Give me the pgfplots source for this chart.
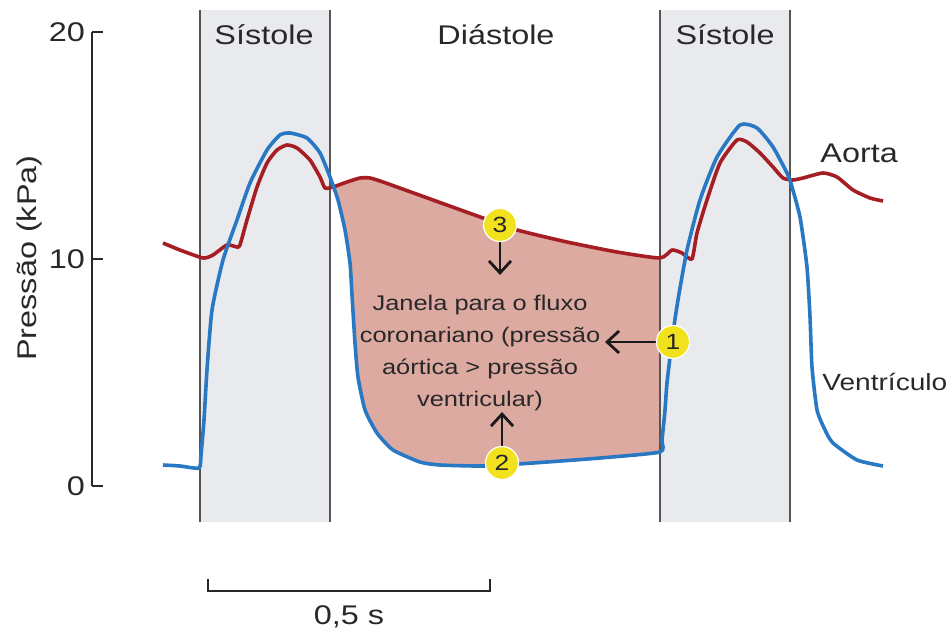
\documentclass[border=0pt]{standalone}
\usepackage{fontspec}
\setmainfont{Liberation Sans}[FakeStretch=1.2]
\usepackage{pgfplots}
\pgfplotsset{compat=1.18}
\usepackage{pgfplotstable}
\usepgfplotslibrary{fillbetween}
\usetikzlibrary{arrows.meta}

\definecolor{aortared}{RGB}{165,30,35}
\definecolor{ventblue}{RGB}{40,120,195}
\definecolor{bandgray}{RGB}{233,234,238}
\definecolor{bandline}{RGB}{85,85,85}
\definecolor{windowpink}{RGB}{221,170,162}
\definecolor{calloutyellow}{RGB}{242,226,30}
\definecolor{inkgray}{RGB}{40,40,40}

% time (s) from start of first systole, pressure (kPa)
\pgfplotstableread{
t p
-0.0656 10.705
-0.0355 10.396
0.0053 10.044
0.0230 10.176
0.0479 10.617
0.0656 10.529
0.0709 10.617
0.0833 11.718
0.1011 13.172
0.1188 14.229
0.1365 14.802
0.1543 15.022
0.1720 14.890
0.1950 14.361
0.2128 13.612
0.2216 13.128
0.2358 13.172
0.2606 13.392
0.2837 13.568
0.3014 13.568
0.3245 13.392
0.4131 12.599
0.5018 11.806
0.5621 11.278
0.6507 10.749
0.7394 10.308
0.8156 10.044
0.8369 10.396
0.8546 10.264
0.8723 10.000
0.8812 11.145
0.8989 12.599
0.9220 14.229
0.9521 15.242
0.9699 15.154
0.9929 14.670
1.0160 14.053
1.0337 13.568
1.0514 13.480
1.0691 13.568
1.1046 13.789
1.1294 13.612
1.1578 13.040
1.1879 12.687
1.2110 12.555
}\aorta

\pgfplotstableread{
t p
-0.0656 0.925
-0.0355 0.881
-0.0018 0.793
0.0018 1.366
0.0071 2.907
0.0124 5.110
0.0213 7.753
0.0408 9.956
0.0656 11.718
0.0887 13.348
0.1188 14.802
0.1418 15.463
0.1596 15.551
0.1897 15.330
0.2128 14.670
0.2305 13.612
0.2447 12.599
0.2571 11.278
0.2660 9.824
0.2695 8.414
0.2748 6.300
0.2801 4.802
0.2926 3.348
0.3138 2.335
0.3422 1.586
0.3901 1.057
0.4255 0.925
0.5018 0.881
0.5904 1.013
0.7092 1.233
0.8156 1.498
0.8191 2.026
0.8245 3.348
0.8280 4.537
0.8387 6.740
0.8475 8.194
0.8635 10.396
0.8865 12.599
0.9167 14.493
0.9574 15.903
0.9876 15.771
1.0160 14.934
1.0408 13.789
1.0461 13.480
1.0638 11.850
1.0762 9.648
1.0816 7.445
1.0851 5.242
1.0940 3.348
1.1082 2.467
1.1223 1.894
1.1649 1.145
1.2110 0.881
}\ventricle

\begin{document}
\begin{tikzpicture}
\begin{axis}[
  x=282pt, y=11.35pt,
  xmin=-0.1915, xmax=1.2145, ymin=0, ymax=20,
  axis x line=none, axis y line=left,
  axis line style={-, draw=inkgray, line width=1pt},
  ytick={0,10,20}, tick align=inside, major tick length=5.5pt,
  ytick style={draw=inkgray, line width=1pt},
  yticklabel style={font=\fontsize{13.5}{16}\selectfont, text=inkgray},
  /pgf/number format/assume math mode=true,
  ylabel={Pressão (kPa)},
  every axis y label/.style={at={(rel axis cs:-0.0782,0.502)}, rotate=90,
    anchor=center, font=\fontsize{13.5}{16}\selectfont, text=inkgray},
  clip=false,
  every axis plot/.append style={line join=round},
]
% systole bands
\addplot[fill=bandgray, draw=none] coordinates {(0,-1.59) (0.2305,-1.59) (0.2305,20.97) (0,20.97)} -- cycle;
\addplot[fill=bandgray, draw=none] coordinates {(0.8156,-1.59) (1.046,-1.59) (1.046,20.97) (0.8156,20.97)} -- cycle;
\addplot[bandline, line width=0.7pt] coordinates {(0,-1.59) (0,20.97)};
\addplot[bandline, line width=0.7pt] coordinates {(0.2305,-1.59) (0.2305,20.97)};
\addplot[bandline, line width=0.7pt] coordinates {(0.8156,-1.59) (0.8156,20.97)};
\addplot[bandline, line width=0.7pt] coordinates {(1.046,-1.59) (1.046,20.97)};

% coronary flow window
\addplot[draw=none, smooth, tension=0.35, name path=A] table {\aorta};
\addplot[draw=none, smooth, tension=0.35, name path=V] table {\ventricle};
\addplot[windowpink] fill between[of=A and V, soft clip={domain=0.237:0.861}];

\addplot[aortared, line width=1.8pt, smooth, tension=0.35] table {\aorta};
\addplot[ventblue, line width=1.8pt, smooth, tension=0.35] table {\ventricle};

\begin{scope}[font=\fontsize{13.5}{16}\selectfont, text=inkgray]
\node[anchor=base] at (axis cs:0.1135,19.43) {Sístole};
\node[anchor=base] at (axis cs:0.5248,19.43) {Diástole};
\node[anchor=base] at (axis cs:0.9309,19.43) {Sístole};
\node[anchor=base west, inner sep=0pt] at (axis cs:1.0993,14.273) {Aorta};
\node[anchor=base west, inner sep=0pt, font=\fontsize{11.7}{14}\selectfont] at (axis cs:1.1028,4.229) {Ventrículo};
\end{scope}

\node[align=center, text=inkgray, font=\fontsize{10.6}{16}\selectfont] at (axis cs:0.4965,5.859)
  {Janela para o fluxo\\coronariano (pressão\\aórtica > pressão\\ventricular)};

\begin{scope}[line width=1.4pt, draw=black!90, -{Straight Barb[length=6pt, width=11pt, line width=1.4pt]}]
\draw (axis cs:0.5319,10.749) -- (axis cs:0.5319,9.295);
\draw (axis cs:0.5355,1.718) -- (axis cs:0.5355,3.260);
\draw (axis cs:0.8085,6.344) -- (axis cs:0.7181,6.344);
\end{scope}

\begin{scope}[every node/.style={circle, fill=calloutyellow, draw=white, line width=0.6pt,
    minimum size=16.5pt, inner sep=0pt, text=black!85, font=\fontsize{11}{13}\selectfont}]
\node at (axis cs:0.5319,11.498) {3};
\node at (axis cs:0.5355,1.013) {2};
\node at (axis cs:0.8387,6.344) {1};
\end{scope}

% time scale bar
\draw[inkgray, line width=1pt] (axis cs:0.0142,-4.097) -- (axis cs:0.0142,-4.626)
  -- (axis cs:0.5142,-4.626) -- (axis cs:0.5142,-4.097);
\node[anchor=base, text=inkgray, font=\fontsize{13.5}{16}\selectfont] at (axis cs:0.2642,-6.123) {0,5 s};

\coordinate (bbA) at (axis cs:-0.3546,21.41);
\coordinate (bbB) at (axis cs:1.3298,-6.344);
\end{axis}
\pgfresetboundingbox
\path (bbA) rectangle (bbB);
\end{tikzpicture}
\end{document}
